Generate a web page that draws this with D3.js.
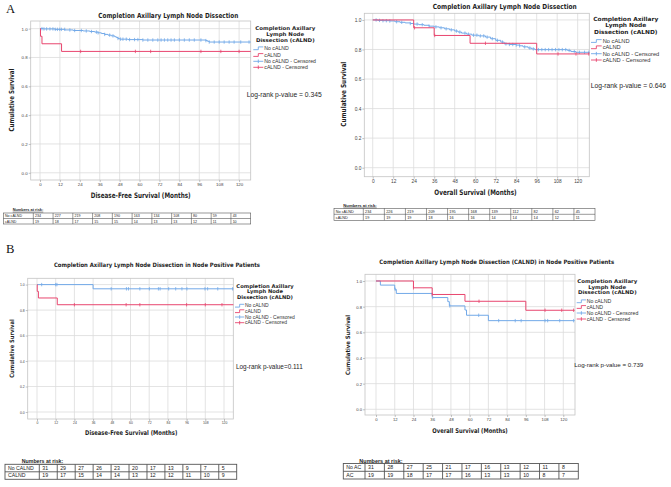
<!DOCTYPE html>
<html><head><meta charset="utf-8">
<script src="https://cdn.jsdelivr.net/npm/d3@7"></script>
<style>html,body{margin:0;padding:0;background:#fff;} svg{display:block;}</style>
</head><body><svg id="c" width="671" height="487"></svg>
<script>
// ---------------- data ----------------
const monthTicks = [0,12,24,36,48,60,72,84,96,108,120];
const survTicks = [0,0.2,0.4,0.6,0.8,1.0];
const legendLabels = ["No cALND","cALND","No cALND - Censored","cALND - Censored"];
const legendTitleLines = ["Completion Axillary","Lymph Node","Dissection (cALND)"];

// Panel A left: disease-free survival, all patients  [month, survival]
const aDfsNo = [[0,1],[2,0.998],[9,0.995],[15,0.991],[20,0.987],[26,0.984],[30,0.98],[33,0.976],[35,0.971],[37,0.966],[39,0.96],[41,0.955],[43,0.95],[45,0.944],[46,0.938],[47,0.932],[48,0.927],[53,0.924],[62,0.921],[100,0.917],[101,0.912],[102,0.907],[127,0.907]];
const aDfsNoCens = [1.2,2.4,4,6,7.8,9.2,10.5,11.9,12.9,14.9,18,20.9,24.9,27.9,31,34,35,39,42,44,47,48.6,50,52,54,57,59,62,65,68,71,73,75,77,79,81,84,87,90,93,97,100,102,105,108,111,114,117,121,126];
const aDfsC = [[0,1],[0.3,0.947],[1.2,0.895],[13,0.842],[127,0.842]];
const aDfsCCens = [24.5,57.5,66.7,97,109,120];
const aDfsRiskNo = [234,227,219,208,190,163,134,108,80,59,43];
const aDfsRiskC = [19,18,17,15,15,14,13,13,12,11,10];

// Panel A right: overall survival, all patients
const aOsNo = [[0,1],[3,0.997],[6,0.995],[10,0.993],[13,0.988],[16,0.984],[19,0.98],[22,0.976],[24,0.972],[27,0.968],[30,0.964],[33,0.958],[36,0.953],[39,0.947],[42,0.94],[45,0.933],[48,0.925],[50,0.918],[52,0.911],[55,0.904],[58,0.897],[62,0.892],[66,0.884],[69,0.873],[72,0.862],[75,0.85],[77,0.838],[80,0.834],[84,0.83],[86,0.825],[88,0.818],[91,0.81],[93,0.804],[95,0.799],[114,0.794],[116,0.786],[119,0.781],[126.8,0.778]];
const aOsNoCens = [2,4,6,8,10,14,17,22,26,29,33,37,40,43,46,49,51,54,56,59,61,63,65,67,70,73,76,78,80,82,84,86,89,92,94,97,99,101,103,105,107,109,111,113,115,118,121,124,126.5];
const aOsC = [[0,1],[24,0.947],[36,0.895],[57,0.842],[96,0.77],[126.8,0.77]];
const aOsCCens = [24.5,36.3,66,108.5,119,126.5];
const aOsRiskNo = [234,226,219,209,195,168,139,112,82,62,45];
const aOsRiskC = [19,19,19,18,16,16,14,14,14,12,11];

// Panel B left: disease-free survival, node positive patients
const bDfsNo = [[0,1],[36,0.967],[126,0.967]];
const bDfsNoCens = [3,12,12.8,47.6,57.4,58.7,66,72.1,77.9,79,84.5,89,93,96.2,107.8,109.5,116,125.5];
const bDfsC = [[0,1],[0.15,0.947],[0.9,0.895],[13,0.842],[126,0.842]];
const bDfsCCens = [24,57.2,66,96,108,118.7];
const bDfsRiskNo = [31,29,27,26,23,20,17,13,9,7,5];
const bDfsRiskC = [19,17,15,14,14,13,12,12,11,10,9];

// Panel B right: overall survival, node positive patients
const bOsNo = [[0,1],[2.8,0.968],[12,0.935],[13,0.903],[36,0.871],[46,0.839],[47,0.806],[57,0.774],[58,0.733],[72,0.691],[127.3,0.691]];
const bOsNoCens = [12.3,36.3,47.3,65.8,78.6,89.2,93,108.3,110,117.7,126.6];
const bOsC = [[0,1],[24,0.947],[36,0.895],[57,0.842],[96,0.772],[127.3,0.772]];
const bOsCCens = [24,36,66,108.3,119,126.6];
const bOsRiskNo = [31,28,27,25,21,17,16,13,12,11,8];
const bOsRiskC = [19,19,18,17,17,16,13,13,10,8,7];

// ---------------- layout ----------------
const panels = [
 { letter:{t:"A",x:6,y:13.3},
   frame:[30.7,250.7,21,180], xDom:[-5.6,127], yDom:[-0.05,1.053], tickFs:4.4,
   title:{t:"Completion Axillary Lymph Node Dissection",x:168.3,y:16,w:140,fs:7},
   xTitle:{t:"Disease-Free Survival (Months)",x:140.7,y:195.7,w:100,fs:7.5},
   yTitle:{t:"Cumulative Survival",x:12,y:100,w:63,fs:7},
   legend:{cx:285.3,ty:[28.6,34.5,40.4],w1:60,fs:5.1,sx0:253.3,sx1:263.3,tx:264.3,iy:[48.3,55,61.3,67.3],ifs:5.2},
   logrank:{t:"Log-rank p-value = 0.345",x:246.7,y:94.3,w:75,fs:6.7},
   series:{no:aDfsNo,noC:aDfsNoCens,c:aDfsC,cC:aDfsCCens},
   table:{label:{t:"Numbers at risk:",x:12.7,y:210,w:30.6,fs:3.8,ul:true},x0:3.3,x1:33.3,x2:250.7,y0:213,y1:218.5,y2:224,fs:3.6,pad:1.7,sw:0.6,
          rows:[["No cALND",aDfsRiskNo],["cALND",aDfsRiskC]]}
 },
 { letter:null,
   frame:[364.3,589.3,13.3,176.7], xDom:[-4.92,126.8], yDom:[-0.061,1.045], tickFs:4.8,
   title:{t:"Completion Axillary Lymph Node Dissection",x:504.7,y:6.7,w:144,fs:7},
   xTitle:{t:"Overall Survival (Months)",x:475.5,y:192.3,w:82.4,fs:7.5},
   yTitle:{t:"Cumulative Survival",x:343.3,y:94.2,w:65,fs:7},
   legend:{cx:625.8,ty:[18.7,25.2,31.7],w1:65,fs:5.6,sx0:591,sx1:601.7,tx:602.7,iy:[41,47.3,53.7,60],ifs:5.7},
   logrank:{t:"Log-rank p-value = 0.646",x:590.7,y:85.7,w:75.3,fs:6.7},
   series:{no:aOsNo,noC:aOsNoCens,c:aOsC,cC:aOsCCens},
   table:{label:{t:"Numbers at risk:",x:343.3,y:205.7,w:33.4,fs:4,ul:true},x0:334,x1:363.3,x2:595,y0:208.3,y1:214.3,y2:220.3,fs:3.8,pad:1.8,sw:0.6,
          rows:[["No cALND",aOsRiskNo],["cALND",aOsRiskC]]}
 },
 { letter:{t:"B",x:6,y:253.3},
   frame:[27.7,233.3,278.3,419], xDom:[-5.97,125.97], yDom:[-0.055,1.0495], tickFs:3.4,
   title:{t:"Completion Axillary Lymph Node Dissection in Node Positive Patients",x:157,y:265,w:206,fs:6},
   xTitle:{t:"Disease-Free Survival (Months)",x:131.2,y:432.7,w:92.3,fs:6.5},
   yTitle:{t:"Cumulative Survival",x:11.7,y:348.5,w:58.4,fs:6},
   legend:{cx:265,ty:[285.9,291.7,297.5],w1:57.3,fs:5.0,sx0:235,sx1:244.3,tx:245,iy:[305.7,311.2,317,322.7],ifs:5.0},
   logrank:{t:"Log-rank p-value=0.111",x:236,y:366.7,w:66.7,fs:6.3},
   series:{no:bDfsNo,noC:bDfsNoCens,c:bDfsC,cC:bDfsCCens},
   table:{label:{t:"Numbers at risk:",x:21.7,y:461.3,w:41.6,fs:5.5,ul:true},x0:5,x1:39.3,x2:236.7,y0:464.3,y1:471.8,y2:479.3,fs:5.2,pad:3,sw:0.9,
          rows:[["No CALND",bDfsRiskNo],["CALND",bDfsRiskC]]}
 },
 { letter:null,
   frame:[365,575,274.3,415], xDom:[-7.05,127.5], yDom:[-0.0444,1.0522], tickFs:4.2,
   title:{t:"Completion Axillary Lymph Node Dissection (CALND) in Node Positive Patients",x:496.7,y:261.7,w:234.7,fs:6},
   xTitle:{t:"Overall Survival (Months)",x:470,y:431,w:75.4,fs:6.5},
   yTitle:{t:"Cumulative Survival",x:348.3,y:345,w:60,fs:6},
   legend:{cx:607.3,ty:[280.9,286.8,292.7],w1:60,fs:5.1,sx0:576.7,sx1:586,tx:586.7,iy:[301.3,307,313,319],ifs:5.2},
   logrank:{t:"Log-rank p-value = 0.739",x:574.3,y:365,w:69,fs:6.2},
   series:{no:bOsNo,noC:bOsNoCens,c:bOsC,cC:bOsCCens},
   table:{label:{t:"Numbers at risk:",x:359.3,y:461,w:43.4,fs:5.5,ul:false},x0:343.3,x1:365,x2:578.3,y0:463.5,y1:471.3,y2:479,fs:5.2,pad:3,sw:0.9,
          rows:[["No AC",bOsRiskNo],["AC",bOsRiskC]]}
 }
];

// ---------------- drawing ----------------
const BLUE = "#72a9e8", RED = "#e8466f";
const BOLD = "DejaVu Sans", REG = "Liberation Sans";
const svg = d3.select("#c");

function survAt(steps, t){ let s = steps[0][1]; for (const d of steps){ if (d[0] <= t) s = d[1]; else break; } return s; }

function addText(g, o, family, weight, anchor){
  const t = g.append("text").attr("x", o.x).attr("y", o.y).attr("dy","0.35em")
    .attr("font-family", family).attr("font-weight", weight || "normal")
    .attr("font-size", o.fs).attr("text-anchor", anchor || "start").attr("fill","#1e1e1e").text(o.t);
  if (o.w) t.attr("textLength", o.w).attr("lengthAdjust","spacingAndGlyphs");
  return t;
}

panels.forEach(p => {
  const g = svg.append("g");
  const [fx0, fx1, fy0, fy1] = p.frame;
  const x = d3.scaleLinear().domain(p.xDom).range([fx0, fx1]);
  const y = d3.scaleLinear().domain(p.yDom).range([fy1, fy0]);

  if (p.letter) g.append("text").attr("x", p.letter.x).attr("y", p.letter.y)
     .attr("font-family","Liberation Serif").attr("font-size",12.6).attr("fill","#111").text(p.letter.t);

  // grid
  g.append("g").selectAll("line").data(monthTicks).join("line")
    .attr("x1", d => x(d)).attr("x2", d => x(d)).attr("y1", fy0).attr("y2", fy1)
    .attr("stroke","#dcdcdc").attr("stroke-width",0.8);
  g.append("g").selectAll("line").data(survTicks).join("line")
    .attr("x1", fx0).attr("x2", fx1).attr("y1", d => y(d)).attr("y2", d => y(d))
    .attr("stroke","#dcdcdc").attr("stroke-width",0.8);
  g.append("rect").attr("x", fx0).attr("y", fy0).attr("width", fx1 - fx0).attr("height", fy1 - fy0)
    .attr("fill","none").attr("stroke","#c4c4c4").attr("stroke-width",0.8);

  // axes
  const xa = g.append("g").attr("transform", `translate(0,${fy1})`)
    .call(d3.axisBottom(x).tickValues(monthTicks).tickFormat(d3.format("d")).tickSize(2).tickPadding(1));
  const ya = g.append("g").attr("transform", `translate(${fx0},0)`)
    .call(d3.axisLeft(y).tickValues(survTicks).tickFormat(d3.format(".1f")).tickSize(2).tickPadding(1));
  [xa, ya].forEach(a => {
    a.attr("font-size", p.tickFs).attr("font-family", REG);
    a.select(".domain").remove();
    a.selectAll(".tick line").attr("stroke","#999").attr("stroke-width",0.6);
    a.selectAll(".tick text").attr("fill","#444");
  });

  // curves
  const line = d3.line().x(d => x(d[0])).y(d => y(d[1])).curve(d3.curveStepAfter);
  const drawSeries = (steps, cens, col) => {
    g.append("path").attr("d", line(steps)).attr("fill","none").attr("stroke", col).attr("stroke-width",1);
    g.append("g").selectAll("line").data(cens).join("line")
      .attr("x1", d => x(d)).attr("x2", d => x(d))
      .attr("y1", d => y(survAt(steps, d)) - 1.7).attr("y2", d => y(survAt(steps, d)) + 1.7)
      .attr("stroke", col).attr("stroke-width",0.8);
  };
  drawSeries(p.series.no, p.series.noC, BLUE);
  drawSeries(p.series.c, p.series.cC, RED);

  // titles
  addText(g, p.title, BOLD, "bold", "middle");
  addText(g, p.xTitle, BOLD, "bold", "middle");
  g.append("text").attr("transform", `translate(${p.yTitle.x},${p.yTitle.y}) rotate(-90)`)
    .attr("dy","0.35em").attr("text-anchor","middle").attr("font-family", BOLD).attr("font-weight","bold")
    .attr("font-size", p.yTitle.fs).attr("fill","#1e1e1e")
    .attr("textLength", p.yTitle.w).attr("lengthAdjust","spacingAndGlyphs").text(p.yTitle.t);

  // legend
  const L = p.legend;
  const tl = legendTitleLines.map((t, i) => addText(g, {t, x: L.cx, y: L.ty[i], fs: L.fs}, BOLD, "bold", "middle"));
  const ratio = L.w1 / tl[0].node().getComputedTextLength();
  tl.forEach(t => { const n = t.node().getComputedTextLength(); t.attr("textLength", n * ratio).attr("lengthAdjust","spacingAndGlyphs"); });
  legendLabels.forEach((lab, i) => {
    const yy = L.iy[i], col = i % 2 === 0 ? BLUE : RED;
    const mid = (L.sx0 + L.sx1) / 2;
    if (i < 2) {
      g.append("path").attr("d", `M${L.sx0},${yy + 1.4}H${mid}V${yy - 1.4}H${L.sx1}`)
        .attr("fill","none").attr("stroke", col).attr("stroke-width",0.9);
    } else {
      g.append("line").attr("x1", L.sx0).attr("x2", L.sx1).attr("y1", yy).attr("y2", yy).attr("stroke", col).attr("stroke-width",0.9);
      g.append("line").attr("x1", mid).attr("x2", mid).attr("y1", yy - 1.8).attr("y2", yy + 1.8).attr("stroke", col).attr("stroke-width",0.9);
    }
    addText(g, {t: lab, x: L.tx, y: yy, fs: L.ifs}, REG, "normal", "start").attr("fill","#333");
  });

  addText(g, p.logrank, REG, "normal", "start");

  // numbers at risk table
  const T = p.table;
  addText(g, T.label, "Liberation Sans", "bold", "start");
  if (T.label.ul) g.append("line").attr("x1", T.label.x).attr("x2", T.label.x + T.label.w)
      .attr("y1", T.label.y + T.label.fs * 0.55).attr("y2", T.label.y + T.label.fs * 0.55)
      .attr("stroke","#222").attr("stroke-width",0.5);
  const cx = d3.scaleLinear().domain([0, monthTicks.length]).range([T.x1, T.x2]);
  const tg = g.append("g").attr("stroke","#555").attr("stroke-width", T.sw).attr("fill","none");
  tg.append("rect").attr("x", T.x0).attr("y", T.y0).attr("width", T.x2 - T.x0).attr("height", T.y2 - T.y0);
  tg.append("line").attr("x1", T.x0).attr("x2", T.x2).attr("y1", T.y1).attr("y2", T.y1);
  tg.selectAll("line.c").data(d3.range(monthTicks.length)).join("line").attr("class","c")
    .attr("x1", d => cx(d)).attr("x2", d => cx(d)).attr("y1", T.y0).attr("y2", T.y2);
  const rowY = [(T.y0 + T.y1) / 2, (T.y1 + T.y2) / 2];
  T.rows.forEach((r, ri) => {
    addText(g, {t: r[0], x: T.x0 + T.pad, y: rowY[ri], fs: T.fs}, REG, "normal", "start").attr("fill","#222");
    g.append("g").selectAll("text").data(r[1]).join("text")
      .attr("x", (d, i) => cx(i) + T.pad).attr("y", rowY[ri]).attr("dy","0.35em")
      .attr("font-family", REG).attr("font-size", T.fs).attr("fill","#222").text(d => d);
  });
});
</script></body></html>
